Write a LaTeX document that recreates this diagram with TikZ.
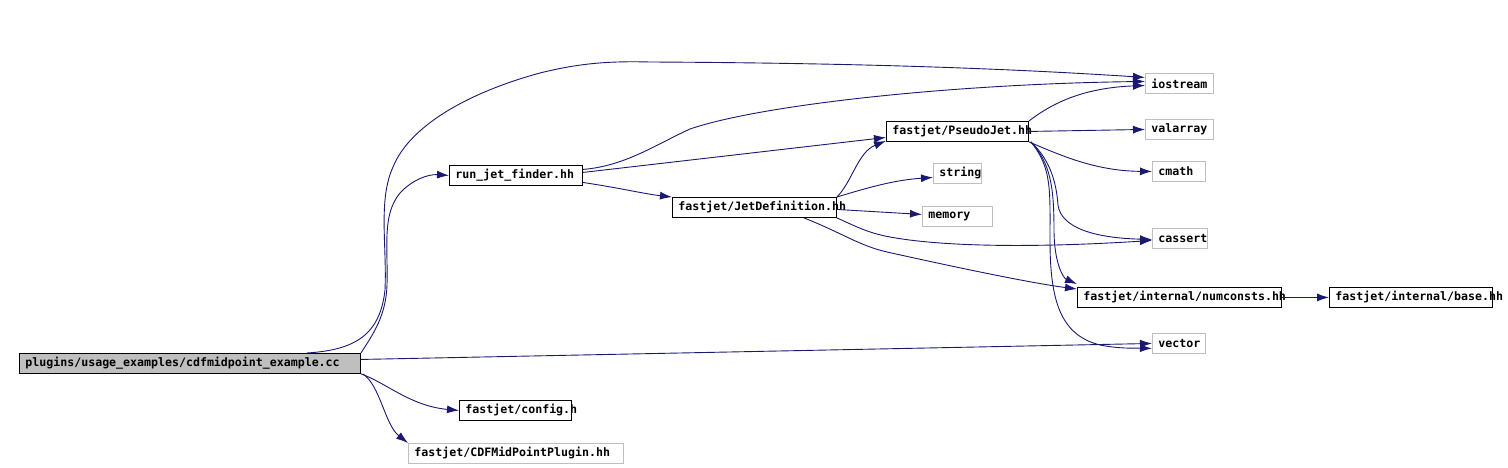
\documentclass[tikz,border=0pt]{standalone}
\usepackage{fontspec}
\usepackage{tikz}
\usetikzlibrary{calc,shapes,arrows.meta}
\newfontfamily\dotfont{DejaVu Sans Mono}
\definecolor{edgeblue}{RGB}{25,25,112}
\definecolor{boxgrey}{RGB}{191,191,191}

\begin{document}
\begin{tikzpicture}[x=1pt,y=-1pt,
        inc/.style={draw=black,line width=0.9pt,rectangle,anchor=north west,inner xsep=6pt,inner ysep=0pt,
            minimum height=20pt,font=\dotfont\bfseries\fontsize{11.6}{12}\selectfont},
        sys/.style={inc,draw=boxgrey},
        edge/.style={draw=edgeblue,line width=0.9pt,-{Latex[length=12pt,width=8pt]}}]
        \useasboundingbox (0,0) rectangle (1508,468);

        \node[inc,fill=boxgrey] (main) at (19,353) {\makebox[329pt][l]{plugins/usage\_examples/cdfmidpoint\_example.cc}};
        \node[inc] (runjet) at (449,165) {\makebox[121pt][l]{run\_jet\_finder.hh}};
        \node[inc] (jetdef) at (672,197) {\makebox[152pt][l]{fastjet/JetDefinition.hh}};
        \node[inc] (pseudojet) at (886,121) {\makebox[130pt][l]{fastjet/PseudoJet.hh}};
        \node[sys] (string) at (933,163) {\makebox[36pt][l]{string}};
        \node[sys] (memory) at (922,206) {\makebox[58pt][l]{memory}};
        \node[sys] (iostream) at (1145,73) {\makebox[56pt][l]{iostream}};
        \node[sys] (valarray) at (1145,119) {\makebox[56pt][l]{valarray}};
        \node[sys] (cmath) at (1152,161) {\makebox[41pt][l]{cmath}};
        \node[sys] (cassert) at (1152,228) {\makebox[43pt][l]{cassert}};
        \node[inc] (numconsts) at (1077,287) {\makebox[192pt][l]{fastjet/internal/numconsts.hh}};
        \node[inc] (base) at (1329,287) {\makebox[151pt][l]{fastjet/internal/base.hh}};
        \node[sys] (vector) at (1152,333) {\makebox[41pt][l]{vector}};
        \node[inc] (config) at (459,400) {\makebox[100pt][l]{fastjet/config.h}};
        \node[sys] (cdfplugin) at (408,443) {\makebox[203pt][l]{fastjet/CDFMidPointPlugin.hh}};

        \draw[edge] ([xshift=-54]main.north east) .. controls (355,350) and (380,335) .. (385,290)
            .. controls (387,245) and (378,200) .. (393,167) .. controls (410,125) and (470,92) .. (540,73)
            .. controls (580,63) and (610,61) .. (650,62) .. controls (850,63) and (1000,68) .. ([yshift=6]iostream.west);
        \draw[edge] (main.north east) .. controls (374,333) and (386,315) .. (387,285)
            .. controls (388,245) and (382,215) .. (400,193) .. controls (412,180) and (428,174) .. (runjet.west);
        \draw[edge] ([yshift=4]main.east) -- (vector.west);
        \draw[edge] (main.south east) .. controls (385,382) and (410,406) .. (config.west);
        \draw[edge] ([xshift=2]main.south east) .. controls (380,385) and (385,425) .. (cdfplugin.north west);

        \draw[edge] ([yshift=6]runjet.east) .. controls (625,166) and (655,145) .. (690,129)
            .. controls (760,105) and (950,84) .. ([yshift=2]iostream.west);
        \draw[edge] ([yshift=3]runjet.east) -- ([yshift=-6]pseudojet.west);
        \draw[edge] ([yshift=-7]runjet.east) .. controls (620,188) and (645,194) .. (jetdef.north west);

        \draw[edge] (jetdef.north east) .. controls (852,182) and (858,152) .. ([yshift=1]pseudojet.south west);
        \draw[edge] (jetdef.north east) .. controls (870,187) and (895,180) .. ([yshift=-4]string.west);
        \draw[edge] ([yshift=-2]jetdef.east) -- ([yshift=2]memory.west);
        \draw[edge] (jetdef.south east) .. controls (855,226) and (868,233) .. (890,237)
            .. controls (950,248) and (1050,247) .. ([yshift=-2]cassert.west);
        \draw[edge] ([xshift=-33]jetdef.south east) .. controls (840,232) and (860,246) .. (887,252)
            .. controls (950,266) and (1030,283) .. ([yshift=-2]numconsts.north west);

        \draw[edge] (pseudojet.north east) .. controls (1050,105) and (1080,88) .. ([yshift=-2]iostream.west);
        \draw[edge] (pseudojet.east) -- (valarray.west);
        \draw[edge] (pseudojet.south east) .. controls (1060,155) and (1095,171) .. (cmath.west);
        \draw[edge] ([xshift=2]pseudojet.south east) .. controls (1048,158) and (1056,178) .. (1058,205)
            .. controls (1061,228) and (1095,238) .. ([yshift=-1]cassert.west);
        \draw[edge] ([xshift=2]pseudojet.south east) .. controls (1050,163) and (1054,185) .. (1054,230)
            .. controls (1054,262) and (1063,278) .. ([yshift=3]numconsts.north west);
        \draw[edge] ([xshift=2]pseudojet.south east) .. controls (1052,168) and (1050,190) .. (1050,240)
            .. controls (1050,300) and (1060,335) .. (1100,345) .. controls (1120,349) and (1135,348) .. ([yshift=-5]vector.west);

        \draw[edge] (numconsts.east) -- (base.west);
    \end{tikzpicture}
\end{document}
